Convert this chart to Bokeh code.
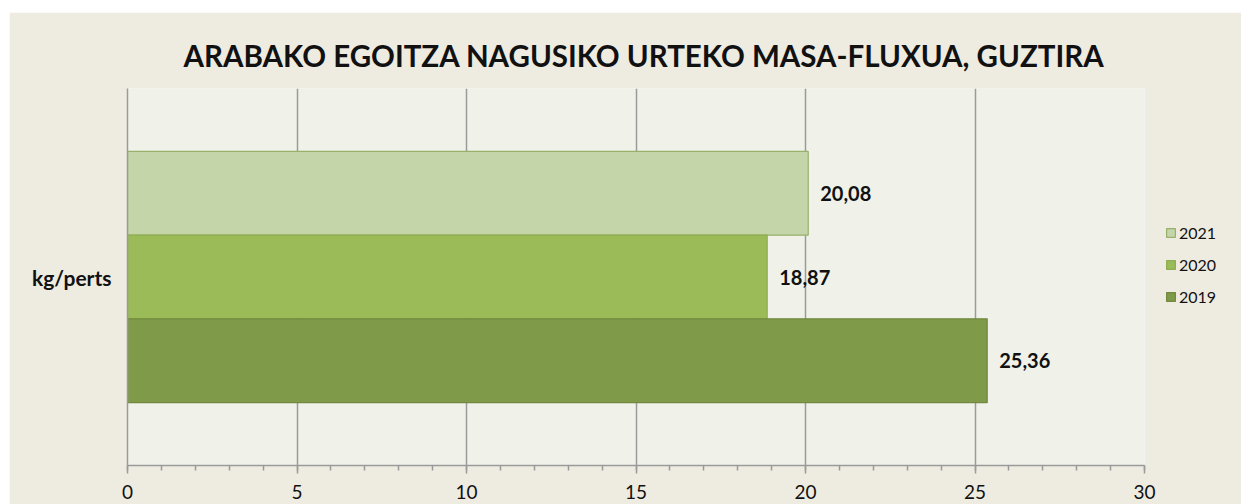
from bokeh.plotting import figure
from bokeh.models import (FactorRange, Range1d, SingleIntervalTicker, LabelSet,
                          ColumnDataSource, Legend, LegendItem)
from bokeh.core.properties import value
from bokeh.transform import dodge
from bokeh.embed import file_html
from bokeh.resources import INLINE

# ---- data ----
category = "kg/perts"
years = ["2021", "2020", "2019"]
values = [20.08, 18.87, 25.36]
colors = ["#C4D6A9", "#9BBB59", "#7F9A48"]
outlines = ["#98B06A", "#8FAD50", "#72893F"]
x_ticks_max = 30

FONT = "Lato"
bar_h = 0.222

p = figure(frame_width=1017, frame_height=377, y_range=FactorRange(factors=[category]),
           x_range=Range1d(0, x_ticks_max), output_backend="svg",
           toolbar_location=None, min_border_left=118, min_border_right=97,
           min_border_top=76, min_border_bottom=39)
p.margin = (12, 0, 0, 9)
p.background_fill_color = "#F0F2EA"
p.border_fill_color = "#EEEBE1"
p.outline_line_color = None

items = []
for i, (yr, v, c, oc) in enumerate(zip(years, values, colors, outlines)):
    src = ColumnDataSource(dict(cat=[category], val=[v],
                                lab=[f"{v:.2f}".replace(".", ",")]))
    off = (1 - i) * bar_h
    r = p.hbar(y=dodge("cat", off, range=p.y_range), right="val", left=0,
               height=bar_h, source=src, fill_color=c, line_color=oc, line_width=1.2)
    items.append(LegendItem(label=yr, renderers=[r]))
    p.add_layout(LabelSet(x="val", y=dodge("cat", off, range=p.y_range), text="lab",
                          source=src, x_offset=12, text_baseline="middle",
                          text_font=value(FONT), text_font_style="bold",
                          text_font_size="20px", text_color="#111111"))

legend = Legend(items=items, location=(21, 159), border_line_color=None,
                background_fill_alpha=0, label_text_font=FONT,
                label_text_font_size="16px", label_text_color="#111111",
                glyph_width=11, glyph_height=11,
                label_standoff=3, spacing=12, label_height=20, margin=0, padding=0)
p.add_layout(legend, "right")

# title
p.title.text = "ARABAKO EGOITZA NAGUSIKO URTEKO MASA-FLUXUA, GUZTIRA"
p.title.text_font = FONT
p.title.text_font_size = "29.5px"
p.title.text_font_style = "bold"
p.title.align = "left"
p.title.offset = 56
p.title.text_color = "#111111"
p.title.standoff = 31

# x axis
p.xaxis.ticker = SingleIntervalTicker(interval=5, num_minor_ticks=5)
p.xaxis.axis_line_color = "#9A9A9A"
p.xaxis.axis_line_width = 1.5
p.xaxis.major_tick_line_color = "#9A9A9A"
p.xaxis.minor_tick_line_color = "#9A9A9A"
p.xaxis.major_tick_line_width = 1.5
p.xaxis.minor_tick_line_width = 1.5
p.xaxis.major_tick_out = 8
p.xaxis.major_tick_in = 0
p.xaxis.minor_tick_out = 5
p.xaxis.minor_tick_in = 0
p.xaxis.major_label_text_font = FONT
p.xaxis.major_label_text_font_size = "19px"
p.xaxis.major_label_text_color = "#111111"
p.xaxis.major_label_standoff = 11

# y axis
p.yaxis.axis_line_color = "#9A9A9A"
p.yaxis.axis_line_width = 1.5
p.yaxis.major_tick_line_color = None
p.yaxis.minor_tick_line_color = None
p.yaxis.major_label_text_font = FONT
p.yaxis.major_label_text_font_style = "bold"
p.yaxis.major_label_text_font_size = "21px"
p.yaxis.major_label_text_color = "#111111"
p.yaxis.major_label_standoff = 10

p.xgrid.grid_line_color = "#9A9A9A"
p.xgrid.grid_line_width = 1.5
p.ygrid.grid_line_color = None

open("out.html", "w").write(file_html(p, INLINE))
